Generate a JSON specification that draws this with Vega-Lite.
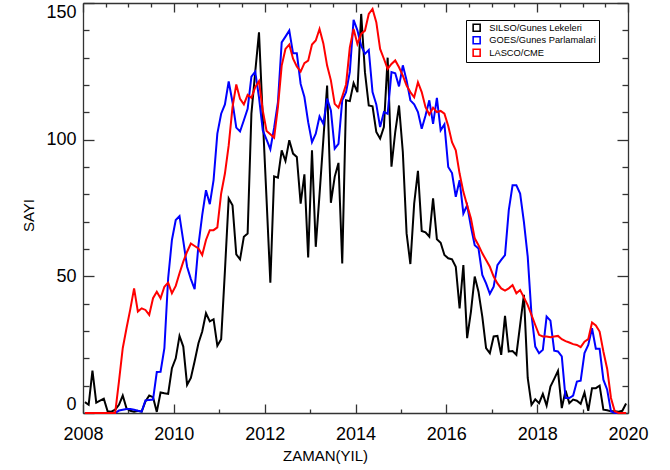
{
  "$schema": "https://vega.github.io/schema/vega-lite/v6.json",
  "width": 545,
  "height": 410,
  "autosize": {"type": "none"},
  "padding": {"left": 83, "top": 3, "right": 42, "bottom": 57},
  "background": "white",
  "config": {"view": {"stroke": null}},
  "data": {"values": [
    {"x":2008.042,"s":4,"g":0,"l":0},{"x":2008.125,"s":3,"g":0,"l":0},{"x":2008.208,"s":15.5,"g":0,"l":0},{"x":2008.292,"s":3.8,"g":0,"l":0},{"x":2008.375,"s":4.5,"g":0,"l":0},{"x":2008.458,"s":5.2,"g":0,"l":0},{"x":2008.542,"s":0.6,"g":0,"l":0},{"x":2008.625,"s":0.5,"g":0,"l":0},{"x":2008.708,"s":1.2,"g":0,"l":0},{"x":2008.792,"s":3,"g":0.9,"l":11.6},{"x":2008.875,"s":6.4,"g":1.2,"l":23.7},{"x":2008.958,"s":1.7,"g":1.5,"l":31},
    {"x":2009.042,"s":0.8,"g":1.5,"l":38},{"x":2009.125,"s":0.5,"g":1.2,"l":45.6},{"x":2009.208,"s":0.8,"g":0.8,"l":37.1},{"x":2009.292,"s":0.5,"g":0.5,"l":38.3},{"x":2009.375,"s":4.2,"g":4.6,"l":37.7},{"x":2009.458,"s":6.4,"g":4.8,"l":35.9},{"x":2009.542,"s":5.8,"g":4.9,"l":42},{"x":2009.625,"s":0.4,"g":15,"l":44.4},{"x":2009.708,"s":7.5,"g":15.1,"l":42},{"x":2009.792,"s":7.2,"g":23.7,"l":46.2},{"x":2009.875,"s":7,"g":49.3,"l":47.7},{"x":2009.958,"s":16.4,"g":63.3,"l":43.8},
    {"x":2010.042,"s":20,"g":70.6,"l":46.5},{"x":2010.125,"s":28.2,"g":72,"l":51.1},{"x":2010.208,"s":24.3,"g":63,"l":55.4},{"x":2010.292,"s":10.3,"g":53.5,"l":59},{"x":2010.375,"s":12.8,"g":49,"l":62},{"x":2010.458,"s":18.9,"g":45.3,"l":61.1},{"x":2010.542,"s":25.5,"g":61.4,"l":60.2},{"x":2010.625,"s":29.8,"g":72.4,"l":57.8},{"x":2010.708,"s":36.5,"g":81.5,"l":63.3},{"x":2010.792,"s":33.5,"g":76.4,"l":66.9},{"x":2010.875,"s":34.3,"g":85.2,"l":66.9},{"x":2010.958,"s":24.6,"g":102.2,"l":67.9},
    {"x":2011.042,"s":27,"g":109.5,"l":80.3},{"x":2011.125,"s":52,"g":112.9,"l":87.6},{"x":2011.208,"s":78.5,"g":121.3,"l":97.9},{"x":2011.292,"s":76,"g":113.7,"l":111.9},{"x":2011.375,"s":58,"g":104.4,"l":120.2},{"x":2011.458,"s":56.2,"g":103,"l":114.9},{"x":2011.542,"s":64.5,"g":107.1,"l":112.9},{"x":2011.625,"s":65.7,"g":111.3,"l":116.4},{"x":2011.708,"s":109.5,"g":123.1,"l":115.3},{"x":2011.792,"s":124.7,"g":124.9,"l":119.2},{"x":2011.875,"s":139.3,"g":115.5,"l":121.4},{"x":2011.958,"s":108,"g":103.4,"l":110.7},
    {"x":2012.042,"s":78,"g":100,"l":103.2},{"x":2012.125,"s":47.7,"g":96.5,"l":102},{"x":2012.208,"s":86.6,"g":104.3,"l":100.7},{"x":2012.292,"s":86.1,"g":113.7,"l":111.9},{"x":2012.375,"s":96.1,"g":135.6,"l":127.1},{"x":2012.458,"s":92.2,"g":137.7,"l":133.2},{"x":2012.542,"s":99.8,"g":139.9,"l":134.8},{"x":2012.625,"s":94.9,"g":131.6,"l":129.6},{"x":2012.708,"s":93.7,"g":131.6,"l":126.8},{"x":2012.792,"s":76.6,"g":120.4,"l":124.9},{"x":2012.875,"s":87.3,"g":115.6,"l":128},{"x":2012.958,"s":56.9,"g":106.4,"l":128.9},
    {"x":2013.042,"s":96.1,"g":99.1,"l":134.8},{"x":2013.125,"s":60.8,"g":102.2,"l":136.3},{"x":2013.208,"s":80,"g":108.5,"l":140.5},{"x":2013.292,"s":100,"g":105.8,"l":135.2},{"x":2013.375,"s":119.8,"g":115,"l":127.1},{"x":2013.458,"s":76.9,"g":110.7,"l":121.7},{"x":2013.542,"s":86.4,"g":96.7,"l":113.1},{"x":2013.625,"s":91.5,"g":98.5,"l":111.7},{"x":2013.708,"s":54.7,"g":114.4,"l":115.8},{"x":2013.792,"s":114.4,"g":117.4,"l":120.2},{"x":2013.875,"s":114.1,"g":124.8,"l":133.8},{"x":2013.958,"s":120.7,"g":143.8,"l":140.5},
    {"x":2014.042,"s":117.4,"g":140,"l":135},{"x":2014.125,"s":146,"g":134.4,"l":138.7},{"x":2014.208,"s":124.7,"g":131.4,"l":139.9},{"x":2014.292,"s":112.5,"g":132.8,"l":146},{"x":2014.375,"s":112.2,"g":117.4,"l":147.8},{"x":2014.458,"s":102.8,"g":112.9,"l":143},{"x":2014.542,"s":100.4,"g":104.6,"l":133.2},{"x":2014.625,"s":104.6,"g":110.1,"l":129.6},{"x":2014.708,"s":130,"g":109.5,"l":125.9},{"x":2014.792,"s":90.1,"g":124.7,"l":127.7},{"x":2014.875,"s":102.8,"g":124.3,"l":129},{"x":2014.958,"s":112.5,"g":119.5,"l":126.5},
    {"x":2015.042,"s":95.5,"g":127.2,"l":123.4},{"x":2015.125,"s":65.7,"g":121.7,"l":119.8},{"x":2015.208,"s":54.5,"g":114.4,"l":117.4},{"x":2015.292,"s":76.6,"g":112.9,"l":115.5},{"x":2015.375,"s":88.6,"g":110.1,"l":121},{"x":2015.458,"s":66.6,"g":104,"l":117.4},{"x":2015.542,"s":66.1,"g":108.8,"l":111.9},{"x":2015.625,"s":64.5,"g":114.4,"l":109.2},{"x":2015.708,"s":78.5,"g":105.8,"l":111.7},{"x":2015.792,"s":63.6,"g":115.3,"l":110.1},{"x":2015.875,"s":62.3,"g":103.4,"l":110.5},{"x":2015.958,"s":57.8,"g":105.6,"l":109.5},
    {"x":2016.042,"s":56.6,"g":90,"l":105},{"x":2016.125,"s":56.2,"g":87.8,"l":99.1},{"x":2016.208,"s":53.5,"g":79.1,"l":96.1},{"x":2016.292,"s":38.3,"g":85.2,"l":87.6},{"x":2016.375,"s":54.1,"g":73,"l":80.9},{"x":2016.458,"s":27.4,"g":76,"l":76},{"x":2016.542,"s":37.1,"g":68.1,"l":71.2},{"x":2016.625,"s":49.9,"g":61.4,"l":63.9},{"x":2016.708,"s":44.4,"g":60.2,"l":61.4},{"x":2016.792,"s":35.3,"g":50.5,"l":58.4},{"x":2016.875,"s":23.7,"g":47.4,"l":56},{"x":2016.958,"s":21.9,"g":43.6,"l":53.5},
    {"x":2017.042,"s":28,"g":46.2,"l":49.9},{"x":2017.125,"s":28.2,"g":54.1,"l":47.4},{"x":2017.208,"s":21.3,"g":56,"l":45.6},{"x":2017.292,"s":35.5,"g":57.8,"l":44.8},{"x":2017.375,"s":22.5,"g":74.2,"l":45.6},{"x":2017.458,"s":22.7,"g":83.3,"l":46.8},{"x":2017.542,"s":21.3,"g":83.3,"l":43.8},{"x":2017.625,"s":32.2,"g":80.3,"l":45},{"x":2017.708,"s":43.2,"g":69.9,"l":42.3},{"x":2017.792,"s":12.8,"g":57.2,"l":39.5},{"x":2017.875,"s":3,"g":36,"l":35.9},{"x":2017.958,"s":5,"g":24.3,"l":32.2},
    {"x":2018.042,"s":3.6,"g":21.9,"l":28.6},{"x":2018.125,"s":7,"g":23.1,"l":28},{"x":2018.208,"s":2.7,"g":35.3,"l":28},{"x":2018.292,"s":9.7,"g":33.8,"l":27.7},{"x":2018.375,"s":12.5,"g":22.8,"l":28},{"x":2018.458,"s":15.4,"g":22.5,"l":28.2},{"x":2018.542,"s":1.8,"g":20.7,"l":27},{"x":2018.625,"s":8.2,"g":5.5,"l":26.3},{"x":2018.708,"s":3.6,"g":5.5,"l":25.8},{"x":2018.792,"s":4.9,"g":6.4,"l":25.2},{"x":2018.875,"s":4.5,"g":11.5,"l":24.9},{"x":2018.958,"s":3.4,"g":11.8,"l":24.1},
    {"x":2019.042,"s":7.5,"g":21.9,"l":26.1},{"x":2019.125,"s":0.8,"g":24.9,"l":27},{"x":2019.208,"s":9.1,"g":31,"l":33.1},{"x":2019.292,"s":9.1,"g":23.5,"l":32},{"x":2019.375,"s":10,"g":23.5,"l":29.8},{"x":2019.458,"s":1.2,"g":12.2,"l":22.5},{"x":2019.542,"s":1,"g":8.5,"l":16.1},{"x":2019.625,"s":0.6,"g":0.6,"l":5.5},{"x":2019.708,"s":0.6,"g":0,"l":0.6},{"x":2019.792,"s":0.5,"g":0,"l":0},{"x":2019.875,"s":0.8,"g":0,"l":0},{"x":2019.958,"s":3.5,"g":0,"l":0}
  ]},
  "transform": [{"fold": ["s", "g", "l"], "as": ["key", "v"]}],
  "resolve": {"axis": {"x": "independent", "y": "independent"}},
  "layer": [
    {
      "transform": [{"filter": "datum.key == 's'"}],
      "mark": {"type": "line", "strokeWidth": 2, "clip": false},
      "encoding": {
        "x": {"field": "x", "type": "quantitative",
          "scale": {"domain": [2008, 2020], "nice": false, "zero": false},
          "axis": {"orient": "bottom",
            "values": [2008,2008.5,2009,2009.5,2010,2010.5,2011,2011.5,2012,2012.5,2013,2013.5,2014,2014.5,2015,2015.5,2016,2016.5,2017,2017.5,2018,2018.5,2019,2019.5,2020],
            "format": "d",
            "labelExpr": "datum.value % 2 == 0 ? datum.label : ''",
            "labelOverlap": false, "labelFlush": false,
            "labelFont": "Liberation Sans", "labelFontSize": 18, "labelColor": "black",
            "labelPadding": 21,
            "tickSize": {"condition": {"test": "datum.value % 2 == 0", "value": -9}, "value": -4},
            "tickColor": "#333", "tickWidth": 1.3,
            "domainColor": "#333", "domainWidth": 1.3,
            "grid": false,
            "title": "ZAMAN(YIL)", "titleFont": "Liberation Sans", "titleFontSize": 15, "titleFontWeight": "normal", "titleColor": "black",
            "titleX": 242, "titleY": 47, "titleAlign": "center", "titleBaseline": "alphabetic"}},
        "y": {"field": "v", "type": "quantitative",
          "scale": {"domain": [0, 150], "nice": false},
          "axis": {"orient": "left",
            "values": [0,10,20,30,40,50,60,70,80,90,100,110,120,130,140,150],
            "labelExpr": "datum.value % 50 == 0 ? datum.label : ''",
            "labelOverlap": false, "labelFlush": true,
            "labelFont": "Liberation Sans", "labelFontSize": 18, "labelColor": "black",
            "labelPadding": 18,
            "tickSize": {"condition": {"test": "datum.value % 50 == 0", "value": -11}, "value": -6},
            "tickColor": "#333", "tickWidth": 1.3,
            "domainColor": "#333", "domainWidth": 1.3,
            "grid": false,
            "title": "SAYI", "titleFont": "Liberation Sans", "titleFontSize": 15, "titleFontWeight": "normal", "titleColor": "black",
            "titleX": -55, "titleY": 212, "titleAngle": 270, "titleAlign": "center", "titleBaseline": "middle"}},
        "color": {"field": "key", "type": "nominal",
          "scale": {"domain": ["s", "g", "l"], "range": ["#000000", "#0000ff", "#ff0000"]},
          "legend": {"orient": "none", "legendX": 383, "legendY": 17, "title": null,
            "labelExpr": "datum.label == 's' ? 'SILSO/Gunes Lekeleri' : datum.label == 'g' ? 'GOES/Gunes Parlamalari' : 'LASCO/CME'",
            "symbolType": "square", "symbolSize": 49, "symbolStrokeWidth": 1.6, "symbolFillColor": "transparent",
            "labelFont": "Liberation Sans", "labelFontSize": 9.3, "labelColor": "black",
            "labelOffset": 8, "rowPadding": 1.5, "padding": 3, "symbolOffset": 3, "clipHeight": 9.6,
            "strokeColor": "black", "fillColor": "white"}}
      }
    },
    {
      "transform": [{"filter": "datum.key == 'g'"}],
      "mark": {"type": "line", "strokeWidth": 2, "clip": false},
      "encoding": {
        "x": {"field": "x", "type": "quantitative",
          "axis": {"orient": "top",
            "values": [2008,2008.5,2009,2009.5,2010,2010.5,2011,2011.5,2012,2012.5,2013,2013.5,2014,2014.5,2015,2015.5,2016,2016.5,2017,2017.5,2018,2018.5,2019,2019.5,2020],
            "labels": false,
            "tickSize": {"condition": {"test": "datum.value % 2 == 0", "value": -9}, "value": -4},
            "tickColor": "#333", "tickWidth": 1.3,
            "domainColor": "#333", "domainWidth": 1.3,
            "grid": false, "title": null}},
        "y": {"field": "v", "type": "quantitative",
          "axis": {"orient": "right",
            "values": [0,10,20,30,40,50,60,70,80,90,100,110,120,130,140,150],
            "labels": false,
            "tickSize": {"condition": {"test": "datum.value % 50 == 0", "value": -11}, "value": -6},
            "tickColor": "#333", "tickWidth": 1.3,
            "domainColor": "#333", "domainWidth": 1.3,
            "grid": false, "title": null}},
        "color": {"field": "key", "type": "nominal"}
      }
    },
    {
      "transform": [{"filter": "datum.key == 'l'"}],
      "mark": {"type": "line", "strokeWidth": 2, "clip": false},
      "encoding": {
        "x": {"field": "x", "type": "quantitative", "axis": null},
        "y": {"field": "v", "type": "quantitative", "axis": null},
        "color": {"field": "key", "type": "nominal"}
      }
    }
  ]
}
